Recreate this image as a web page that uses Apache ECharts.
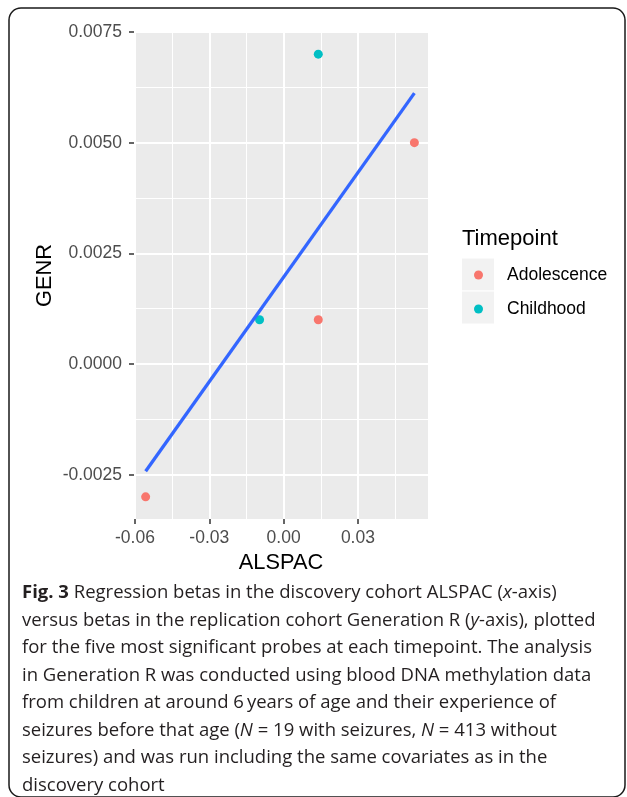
<!DOCTYPE html>
<html>
<head>
<meta charset="utf-8">
<script src="https://cdn.jsdelivr.net/npm/echarts@6/dist/echarts.min.js"></script>
<style>
  html, body { margin: 0; padding: 0; background: #fff; }
  #chart { width: 627px; height: 797px; }
</style>
</head>
<body>
<div id="chart"></div>
<script>
// points (ALSPAC beta, GENR beta)
const adolX = [-0.0557, 0.0140, 0.0528];
const adolY = [-0.0030, 0.0010, 0.0050];
const childX = [-0.0097, 0.0140];
const childY = [0.0010, 0.0070];
// ends of the fitted line
const fitX = [-0.0557, 0.0528];
const fitY = [-0.00242, 0.00612];

const xTicks = [-0.06, -0.03, 0, 0.03];
const xMinor = [-0.045, -0.015, 0.015, 0.045];
const yTicks = [-0.0025, 0, 0.0025, 0.005, 0.0075];
const yMinor = [-0.00125, 0.00125, 0.00375, 0.00625];

const xRange = [-0.0604, 0.0583];
const yRange = [-0.0035, 0.0075];

const captionLines = [
  "{b|Fig. 3} Regression betas in the discovery cohort ALSPAC ({i|x}-axis)",
  "versus betas in the replication cohort Generation R ({i|y}-axis), plotted",
  "for the five most significant probes at each timepoint. The analysis",
  "in Generation R was conducted using blood DNA methylation data",
  "from children at around 6\u2009years of age and their experience of",
  "seizures before that age ({i|N} = 19 with seizures, {i|N} = 413 without",
  "seizures) and was run including the same covariates as in the",
  "discovery cohort",
];

const sans = "Liberation Sans, Arial, sans-serif";
const capFont = "Open Sans, sans-serif";

function pairs(xs, ys) {
  return xs.map((x, i) => [x, ys[i]]);
}

// white panel grid, drawn through the axes as mark lines
const gridLines = [];
function vLine(v, w) {
  gridLines.push([
    { coord: [v, yRange[0]], lineStyle: { width: w } },
    { coord: [v, yRange[1]] },
  ]);
}
function hLine(v, w) {
  gridLines.push([
    { coord: [xRange[0], v], lineStyle: { width: w } },
    { coord: [xRange[1], v] },
  ]);
}
xMinor.forEach(v => vLine(v, 1));
yMinor.forEach(v => hLine(v, 1));
xTicks.forEach(v => vLine(v, 2));
yTicks.forEach(v => hLine(v, 2));

const graphics = [
  {
    type: "rect",
    shape: { x: 9, y: 8, width: 616, height: 789, r: 12 },
    style: { fill: "none", stroke: "#1a1a1a", lineWidth: 1.5 },
  },
  {
    type: "text",
    x: 462, y: 239,
    style: { text: "Timepoint", font: "22px " + sans, fill: "#000", verticalAlign: "middle" },
  },
  {
    type: "rect",
    shape: { x: 461.5, y: 258, width: 33, height: 33 },
    style: { fill: "#F2F2F2", stroke: "#fff", lineWidth: 1 },
  },
  {
    type: "rect",
    shape: { x: 461.5, y: 291, width: 33, height: 33 },
    style: { fill: "#F2F2F2", stroke: "#fff", lineWidth: 1 },
  },
];

captionLines.forEach((line, i) => {
  graphics.push({
    type: "text",
    x: 22,
    y: 593 + i * 27.5,
    style: {
      text: line,
      font: "18.5px " + capFont,
      fill: "#231f20",
      verticalAlign: "middle",
      rich: {
        b: { fontFamily: capFont, fontSize: 18.5, fontWeight: "bold", fill: "#231f20" },
        i: { fontFamily: capFont, fontSize: 18.5, fontStyle: "italic", fill: "#231f20" },
      },
    },
  });
});

const chart = echarts.init(document.getElementById("chart"));
const option = {
  animation: false,
  backgroundColor: "#fff",
  grid: {
    left: 134,
    top: 32,
    right: 199,
    bottom: 278,
    show: true,
    backgroundColor: "#EBEBEB",
    borderWidth: 0,
  },
  xAxis: {
    type: "value",
    min: xRange[0],
    max: xRange[1],
    name: "ALSPAC",
    nameLocation: "middle",
    nameGap: 24,
    nameTextStyle: { fontFamily: sans, fontSize: 21.8, color: "#000" },
    axisLine: { show: false, onZero: false },
    axisTick: { show: true, length: 5, customValues: xTicks, lineStyle: { color: "#333", width: 1.5 } },
    axisLabel: {
      customValues: xTicks,
      margin: 10,
      fontFamily: sans,
      fontSize: 17.5,
      color: "#4D4D4D",
      formatter: v => v.toFixed(2),
    },
    splitLine: { show: false },
  },
  yAxis: {
    type: "value",
    min: yRange[0],
    max: yRange[1],
    name: "GENR",
    nameLocation: "middle",
    nameRotate: 90,
    nameGap: 78,
    nameTextStyle: { fontFamily: sans, fontSize: 21.8, color: "#000" },
    axisLine: { show: false, onZero: false },
    axisTick: { show: true, length: 5, customValues: yTicks, lineStyle: { color: "#333", width: 1.5 } },
    axisLabel: {
      customValues: yTicks,
      margin: 12,
      fontFamily: sans,
      fontSize: 17.5,
      color: "#4D4D4D",
      formatter: v => v.toFixed(4),
    },
    splitLine: { show: false },
  },
  legend: {
    data: ["Adolescence", "Childhood"],
    orient: "vertical",
    left: 474,
    top: 266,
    padding: 0,
    icon: "circle",
    itemWidth: 33,
    itemHeight: 9,
    itemGap: 16,
    selectedMode: false,
    textStyle: { fontFamily: sans, fontSize: 17.5, color: "#000", padding: [0, 0, 0, 7] },
  },
  graphic: graphics,
  series: [
    {
      // panel grid lines only
      type: "scatter",
      data: [],
      z: 1,
      silent: true,
      markLine: {
        z: 1,
        silent: true,
        symbol: ["none", "none"],
        label: { show: false },
        lineStyle: { color: "#fff", type: "solid" },
        data: gridLines,
      },
    },
    {
      name: "Adolescence",
      type: "scatter",
      data: pairs(adolX, adolY),
      symbolSize: 9,
      itemStyle: { color: "#F8766D", opacity: 1 },
      z: 3,
    },
    {
      name: "Childhood",
      type: "scatter",
      data: pairs(childX, childY),
      symbolSize: 9,
      itemStyle: { color: "#00BFC4", opacity: 1 },
      z: 3,
    },
    {
      name: "fit",
      type: "line",
      data: pairs(fitX, fitY),
      showSymbol: false,
      symbol: "none",
      lineStyle: { color: "#3366FF", width: 3.3 },
      z: 4,
    },
  ],
};
chart.setOption(option);
</script>
</body>
</html>
